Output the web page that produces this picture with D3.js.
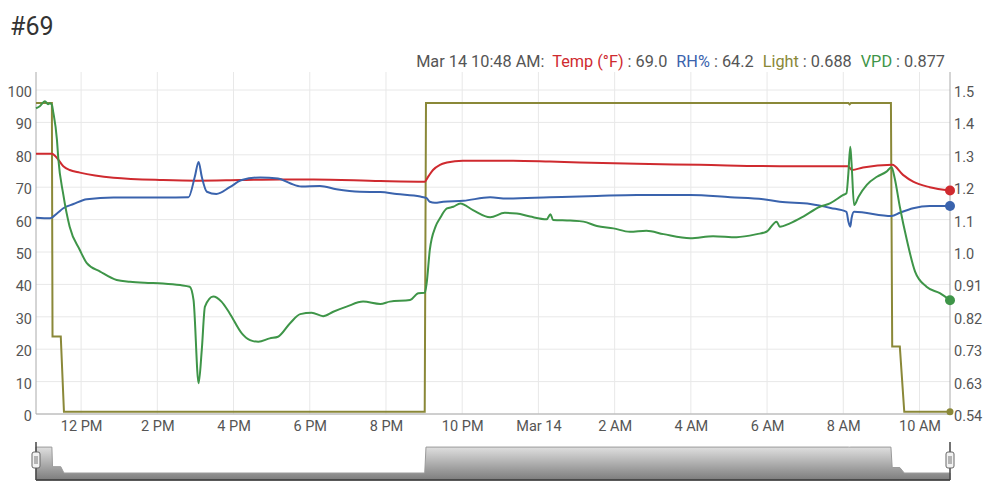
<!DOCTYPE html>
<html><head><meta charset="utf-8">
<script src="https://cdn.jsdelivr.net/npm/d3@7"></script>
<style>
body{margin:0;background:#fff;font-family:Roboto,"Noto Sans",sans-serif;}
svg text{font-family:Roboto,"Noto Sans",sans-serif;}
</style></head>
<body><svg id="c" width="1000" height="501"></svg>
<script>
// ---- data (times are Mar 13 -> Mar 14) ----
const title = "#69";
const readoutTime = "Mar 14 10:48 AM:";
const readout = [
  {name:"Temp (°F)", value:"69.0"},
  {name:"RH%", value:"64.2"},
  {name:"Light", value:"0.688"},
  {name:"VPD", value:"0.877"}
];
const xDomain = ["03/13 10:49", "03/14 10:48"];
const xTickTimes = ["03/13 12:00","03/13 14:00","03/13 16:00","03/13 18:00","03/13 20:00","03/13 22:00",
                    "03/14 00:00","03/14 02:00","03/14 04:00","03/14 06:00","03/14 08:00","03/14 10:00"];
const xTickLabels = ["12 PM","2 PM","4 PM","6 PM","8 PM","10 PM","Mar 14","2 AM","4 AM","6 AM","8 AM","10 AM"];
const leftTicks = [0,10,20,30,40,50,60,70,80,90,100];
const rightDomain = [0.54, 1.5];
const rightTickLabels = ["0.54","0.63","0.73","0.82","0.91","1.0","1.1","1.2","1.3","1.4","1.5"];

const temp = [
  ["03/13 10:49",80.3],["03/13 11:14",80.3],["03/13 11:20",79.5],["03/13 11:32",76.5],["03/13 11:42",75.3],
  ["03/13 11:58",74.5],["03/13 12:22",73.6],["03/13 12:51",72.9],["03/13 14:09",72.2],["03/13 15:02",72.0],
  ["03/13 16:10",72.2],["03/13 17:13",72.4],["03/13 18:06",72.4],["03/13 19:51",71.9],["03/13 21:01",71.7],
  ["03/13 21:06",73.1],["03/13 21:14",75.3],["03/13 21:25",76.9],["03/13 21:36",77.6],["03/13 22:01",78.2],
  ["03/13 23:20",78.2],["03/14 00:18",77.9],["03/14 01:05",77.6],["03/14 02:35",77.2],["03/14 04:14",76.9],
  ["03/14 06:20",76.5],["03/14 08:07",76.5],["03/14 08:14",75.3],["03/14 08:31",76.1],["03/14 09:17",76.9],
  ["03/14 09:34",73.8],["03/14 09:50",71.7],["03/14 10:16",70.0],["03/14 10:48",69.0]
];
const rh = [
  ["03/13 10:49",60.6],["03/13 11:11",60.4],["03/13 11:22",61.9],["03/13 11:32",63.5],["03/13 11:48",64.8],
  ["03/13 12:09",66.3],["03/13 12:51",66.8],["03/13 14:09",66.8],["03/13 14:49",66.9],["03/13 14:59",73.2],
  ["03/13 15:05",77.8],["03/13 15:10",73.2],["03/13 15:18",68.6],["03/13 15:33",67.9],["03/13 15:54",70.0],
  ["03/13 16:13",72.2],["03/13 16:42",73.0],["03/13 17:10",72.7],["03/13 17:29",71.2],["03/13 17:47",70.2],
  ["03/13 18:16",70.4],["03/13 18:42",69.4],["03/13 19:19",68.6],["03/13 19:51",68.5],["03/13 20:17",67.9],
  ["03/13 20:54",67.1],["03/13 21:04",66.6],["03/13 21:09",65.5],["03/13 21:17",65.2],["03/13 21:30",65.5],
  ["03/13 22:02",65.8],["03/13 22:44",66.9],["03/13 23:10",66.5],["03/14 00:18",66.9],["03/14 01:32",67.3],
  ["03/14 02:35",67.6],["03/14 03:59",67.6],["03/14 05:02",66.9],["03/14 05:54",66.3],["03/14 06:20",65.5],
  ["03/14 07:08",64.8],["03/14 07:40",63.6],["03/14 08:05",62.4],["03/14 08:08",59.4],["03/14 08:11",57.8],
  ["03/14 08:13",60.4],["03/14 08:17",62.4],["03/14 09:16",61.1],["03/14 09:29",62.1],["03/14 09:50",63.5],
  ["03/14 10:16",64.2],["03/14 10:48",64.2]
];
const light = [
  ["03/13 10:49",96.0],["03/13 11:14",96.0],["03/13 11:15",23.9],["03/13 11:28",23.9],["03/13 11:33",0.7],
  ["03/13 21:01",0.7],["03/13 21:03",96.0],["03/14 08:08",96.0],["03/14 08:10",95.6],["03/14 08:12",96.0],
  ["03/14 09:15",96.0],["03/14 09:17",20.8],["03/14 09:29",20.8],["03/14 09:36",0.7],["03/14 10:48",0.688]
];
const vpd = [
  ["03/13 10:49",1.446],["03/13 10:55",1.452],["03/13 11:03",1.467],["03/13 11:08",1.458],["03/13 11:11",1.461],
  ["03/13 11:14",1.456],["03/13 11:16",1.436],["03/13 11:22",1.352],["03/13 11:24",1.299],["03/13 11:32",1.190],
  ["03/13 11:42",1.095],["03/13 11:58",1.026],["03/13 12:09",0.987],["03/13 12:30",0.962],["03/13 12:56",0.937],
  ["03/13 13:17",0.932],["03/13 13:40",0.929],["03/13 14:09",0.927],["03/13 14:36",0.922],["03/13 14:51",0.917],
  ["03/13 14:57",0.878],["03/13 15:05",0.631],["03/13 15:10",0.730],["03/13 15:15",0.858],["03/13 15:28",0.888],
  ["03/13 15:41",0.873],["03/13 15:54",0.838],["03/13 16:13",0.779],["03/13 16:26",0.759],["03/13 16:39",0.754],
  ["03/13 16:57",0.764],["03/13 17:10",0.769],["03/13 17:29",0.809],["03/13 17:45",0.836],["03/13 18:03",0.840],
  ["03/13 18:21",0.830],["03/13 18:37",0.843],["03/13 18:58",0.858],["03/13 19:24",0.873],["03/13 19:51",0.866],
  ["03/13 20:06",0.873],["03/13 20:38",0.878],["03/13 20:51",0.898],["03/13 21:01",0.899],["03/13 21:04",0.927],
  ["03/13 21:09",1.026],["03/13 21:18",1.095],["03/13 21:25",1.120],["03/13 21:36",1.149],["03/13 21:46",1.154],
  ["03/13 21:57",1.164],["03/13 22:17",1.144],["03/13 22:44",1.123],["03/13 23:07",1.136],["03/13 23:26",1.134],
  ["03/13 23:47",1.125],["03/14 00:13",1.117],["03/14 00:19",1.132],["03/14 00:23",1.115],["03/14 00:50",1.113],
  ["03/14 01:11",1.110],["03/14 01:32",1.097],["03/14 01:58",1.090],["03/14 02:24",1.080],["03/14 02:50",1.083],
  ["03/14 03:17",1.073],["03/14 03:59",1.061],["03/14 04:35",1.067],["03/14 05:12",1.064],["03/14 05:44",1.073],
  ["03/14 05:59",1.080],["03/14 06:15",1.110],["03/14 06:20",1.095],["03/14 06:36",1.105],["03/14 06:57",1.125],
  ["03/14 07:23",1.154],["03/14 07:39",1.164],["03/14 08:00",1.189],["03/14 08:05",1.194],["03/14 08:08",1.253],
  ["03/14 08:11",1.332],["03/14 08:13",1.283],["03/14 08:17",1.159],["03/14 08:24",1.184],["03/14 08:37",1.219],
  ["03/14 08:53",1.243],["03/14 09:08",1.258],["03/14 09:16",1.271],["03/14 09:21",1.238],["03/14 09:29",1.154],
  ["03/14 09:40",1.056],["03/14 09:53",0.962],["03/14 10:11",0.917],["03/14 10:32",0.898],["03/14 10:48",0.877]
];

// ---- layout ----
const colors = {temp:"#cf2a2f", rh:"#3a63ad", light:"#8a8838", vpd:"#3e9548"};
const legendColors = [colors.temp, colors.rh, colors.light, colors.vpd];
const parse = d3.timeParse("%m/%d %H:%M");
const L = 36, R = 950, T = 90, B = 414, gridTop = 72;
const x = d3.scaleTime().domain(xDomain.map(parse)).range([L, R]);
const yL = d3.scaleLinear().domain([0,100]).range([B, T]);
const yR = d3.scaleLinear().domain(rightDomain).range([B, T]);

const svg = d3.select("#c");
svg.append("text").attr("x",10).attr("y",35).attr("font-size",25).attr("fill","#333").text(title);

// legend / readout
const lg = svg.append("text").attr("x",945).attr("y",67).attr("text-anchor","end").attr("font-size",16.3).attr("fill","#555");
lg.append("tspan").text(readoutTime + " ");
readout.forEach((r,i)=>{
  lg.append("tspan").attr("fill",legendColors[i]).attr("dx", i===0?4:9).text(r.name);
  lg.append("tspan").attr("fill","#555").text(" : " + r.value);
});

// grid
const g = svg.append("g");
g.selectAll("line.hg").data(leftTicks).join("line")
  .attr("x1",L).attr("x2",R).attr("y1",d=>yL(d)).attr("y2",d=>yL(d))
  .attr("stroke","#e8e8e8").attr("stroke-width",1);
g.selectAll("line.vg").data(xTickTimes).join("line")
  .attr("x1",d=>x(parse(d))).attr("x2",d=>x(parse(d))).attr("y1",gridTop).attr("y2",B)
  .attr("stroke","#e8e8e8").attr("stroke-width",1);

// axes
const axL = svg.append("g").attr("transform",`translate(${L},0)`)
  .call(d3.axisLeft(yL).tickValues(leftTicks).tickSize(0).tickPadding(4));
const axR = svg.append("g").attr("transform",`translate(${R},0)`)
  .call(d3.axisRight(yR).tickValues(d3.range(11).map(i=>rightDomain[0]+i*(rightDomain[1]-rightDomain[0])/10))
    .tickSize(0).tickPadding(4).tickFormat((d,i)=>rightTickLabels[i]));
const axB = svg.append("g").attr("transform",`translate(0,${B})`)
  .call(d3.axisBottom(x).tickValues(xTickTimes.map(parse)).tickSize(0).tickPadding(7).tickFormat((d,i)=>xTickLabels[i]));
[axL,axR,axB].forEach(a=>{
  a.select(".domain").remove();
  a.selectAll("text").attr("font-size",14.5).attr("fill","#555").attr("font-family","Roboto, sans-serif");
});
axR.selectAll("text").attr("dy","0.45em");
axL.selectAll("text").attr("dy","0.45em");
svg.append("line").attr("x1",L).attr("x2",L).attr("y1",gridTop).attr("y2",B).attr("stroke","#aaa");
svg.append("line").attr("x1",R).attr("x2",R).attr("y1",gridTop).attr("y2",B).attr("stroke","#aaa");
svg.append("line").attr("x1",L).attr("x2",R).attr("y1",B).attr("y2",B).attr("stroke","#aaa");

// lines
function draw(data, yScale, color, r){
  const pts = data.map(d=>[x(parse(d[0])), yScale(d[1])]);
  svg.append("path").attr("d", d3.line().curve(d3.curveMonotoneX)(pts))
    .attr("fill","none").attr("stroke",color).attr("stroke-width",2).attr("stroke-linejoin","round");
  const last = pts[pts.length-1];
  svg.append("circle").attr("cx",last[0]).attr("cy",last[1]).attr("r",r).attr("fill",color);
}
function drawStep(data, yScale, color, r){
  const pts = data.map(d=>[x(parse(d[0])), yScale(d[1])]);
  svg.append("path").attr("d", d3.line()(pts))
    .attr("fill","none").attr("stroke",color).attr("stroke-width",2);
  const last = pts[pts.length-1];
  svg.append("circle").attr("cx",last[0]).attr("cy",last[1]).attr("r",r).attr("fill",color);
}
drawStep(light, yL, colors.light, 3.5);
draw(temp, yL, colors.temp, 5);
draw(rh, yL, colors.rh, 5);
draw(vpd, yR, colors.vpd, 5);

// navigator
const navY = d3.scaleLinear().domain([-25,100]).range([480,446]);
const defs = svg.append("defs");
const grad = defs.append("linearGradient").attr("id","ng").attr("gradientUnits","userSpaceOnUse")
  .attr("x1",0).attr("x2",0).attr("y1",446).attr("y2",480);
grad.append("stop").attr("offset","0").attr("stop-color","#e2e2e2");
grad.append("stop").attr("offset","1").attr("stop-color","#7d7d7d");
const navPts = light.map(d=>[x(parse(d[0])), navY(d[1])]);
svg.append("path").attr("d", d3.area().x(d=>d[0]).y0(480).y1(d=>d[1])(navPts))
  .attr("fill","url(#ng)").attr("stroke","#9a9a9a").attr("stroke-width",1);
svg.append("line").attr("x1",L).attr("x2",R).attr("y1",480).attr("y2",480).attr("stroke","#333").attr("stroke-width",1.5);
[L,R].forEach(hx=>{
  svg.append("line").attr("x1",hx).attr("x2",hx).attr("y1",442).attr("y2",480).attr("stroke","#444").attr("stroke-width",1.5);
  svg.append("rect").attr("x",hx-4).attr("y",452).attr("width",8).attr("height",16).attr("rx",2)
    .attr("fill","#f2f2f2").attr("stroke","#666");
  svg.append("line").attr("x1",hx-1).attr("x2",hx-1).attr("y1",456).attr("y2",464).attr("stroke","#777");
  svg.append("line").attr("x1",hx+1).attr("x2",hx+1).attr("y1",456).attr("y2",464).attr("stroke","#777");
});
</script></body></html>
